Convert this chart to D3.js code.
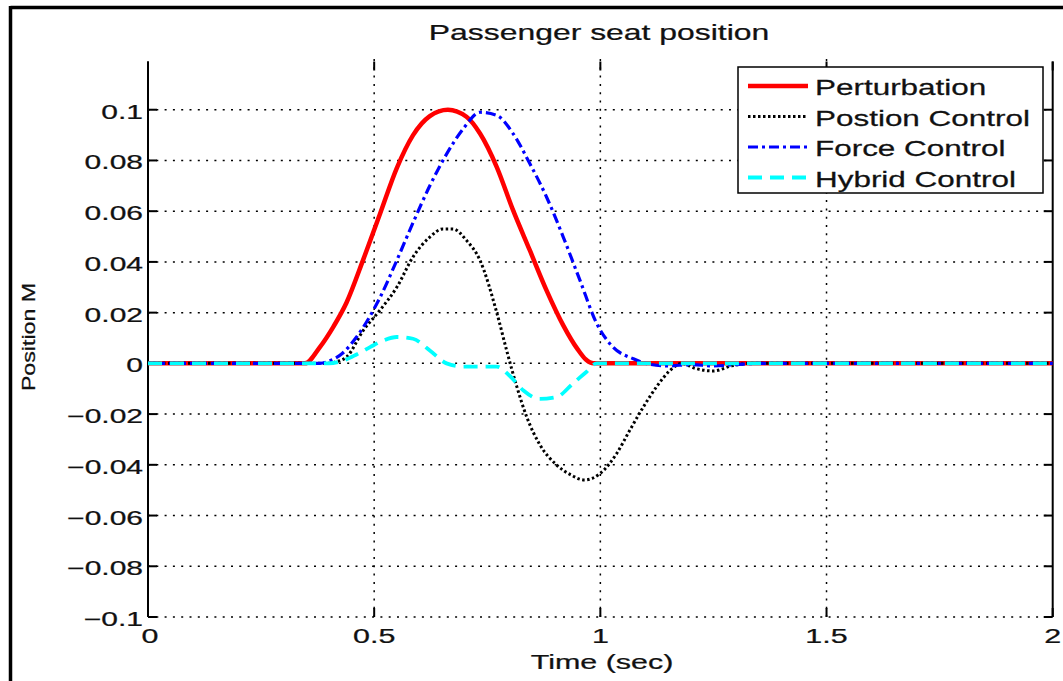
<!DOCTYPE html>
<html>
<head>
<meta charset="utf-8">
<script src="https://cdn.jsdelivr.net/npm/d3@7/dist/d3.min.js"></script>
<style>
  html, body { margin: 0; padding: 0; background: #fff; }
  svg { display: block; }
  text { font-family: "Liberation Sans", Arial, sans-serif; fill: #111; }
</style>
</head>
<body>
<svg id="chart" width="1063" height="681"></svg>
<script>
// ---------------- data ----------------
const chartTitle = "Passenger seat position";
const xLabel = "Time (sec)";
const yLabel = "Position M";
const xTicks = [0, 0.5, 1, 1.5, 2];
const xTickLabels = ["0", "0.5", "1", "1.5", "2"];
const yTicks = [-0.1, -0.08, -0.06, -0.04, -0.02, 0, 0.02, 0.04, 0.06, 0.08, 0.1];
const yTickLabels = ["\u22120.1", "\u22120.08", "\u22120.06", "\u22120.04", "\u22120.02", "0", "0.02", "0.04", "0.06", "0.08", "0.1"];
const seriesNames = ["Perturbation", "Postion Control", "Force Control", "Hybrid Control"];

const perturbTime  = [0, 0.347, 0.380, 0.410, 0.439, 0.476, 0.513, 0.550, 0.586, 0.623, 0.663, 0.704, 0.734, 0.771, 0.807, 0.844, 0.881, 0.918, 0.950, 0.968, 0.985, 2];
const perturbValue = [0, 0, 0.0064, 0.0145, 0.0240, 0.0410, 0.0590, 0.0770, 0.0900, 0.0975, 0.1000, 0.0972, 0.0906, 0.0774, 0.0604, 0.0446, 0.0288, 0.0150, 0.0055, 0.0015, 0, 0];

const positionTime  = [0, 0.40, 0.413, 0.439, 0.476, 0.513, 0.550, 0.586, 0.623, 0.652, 0.674, 0.704, 0.734, 0.771, 0.793, 0.815, 0.837, 0.866, 0.903, 0.935, 0.965, 0.999, 1.036, 1.065, 1.095, 1.124, 1.154, 1.18, 1.21, 1.25, 1.29, 1.33, 2];
const positionValue = [0, 0, 0.0005, 0.0025, 0.013, 0.021, 0.030, 0.042, 0.0498, 0.053, 0.053, 0.0485, 0.0406, 0.020, 0.005, -0.009, -0.021, -0.032, -0.040, -0.044, -0.046, -0.0435, -0.0356, -0.0264, -0.0172, -0.0093, -0.0028, 0, -0.002, -0.003, -0.001, 0, 0];

const forceTime  = [0, 0.38, 0.402, 0.430, 0.461, 0.513, 0.550, 0.586, 0.623, 0.660, 0.697, 0.734, 0.771, 0.807, 0.844, 0.881, 0.918, 0.955, 0.992, 1.028, 1.073, 1.10, 1.15, 1.20, 1.25, 1.30, 1.35, 2];
const forceValue = [0, 0, 0.001, 0.004, 0.0104, 0.026, 0.0406, 0.0555, 0.0700, 0.0825, 0.0925, 0.0990, 0.0978, 0.0906, 0.0788, 0.0656, 0.0498, 0.0327, 0.0157, 0.0064, 0.0018, 0.0, -0.001, -0.0005, -0.001, -0.0005, 0, 0];

const hybridTime  = [0, 0.40, 0.43, 0.461, 0.491, 0.520, 0.550, 0.586, 0.623, 0.660, 0.697, 0.771, 0.80, 0.83, 0.866, 0.903, 0.939, 0.969, 0.992, 2];
const hybridValue = [0, 0, 0.001, 0.0035, 0.0064, 0.0090, 0.0104, 0.0097, 0.0051, 0.0, -0.0013, -0.0013, -0.005, -0.0107, -0.014, -0.0133, -0.008, -0.0034, 0, 0];

// ---------------- layout / style ----------------
const svg = d3.select("#chart");
const W = 1063, H = 681;
const plotLeft = 148, plotRight = 1052.7, plotTop = 59, plotBottom = 617;

const x = d3.scaleLinear().domain([0, 2]).range([plotLeft, plotRight]);
const y = d3.scaleLinear().domain([-0.1, 0.12]).range([plotBottom, plotTop]);

const styles = [
  { color: "#ff0000", width: 4.5, dash: null },
  { color: "#000000", width: 3,   dash: "2.5,2.5" },
  { color: "#0000ff", width: 3.2, dash: "10,4,3,4" },
  { color: "#00ffff", width: 3.8, dash: "14,8" }
];

function stretchedText(parent, tx, ty, str, size, sx, anchor, rot) {
  const g = parent.append("g")
    .attr("transform", `translate(${tx},${ty})` + (rot ? ` rotate(${rot})` : "") + ` scale(${sx},1)`);
  g.append("text")
    .attr("x", 0).attr("y", 0)
    .attr("text-anchor", anchor)
    .style("font-size", size + "px")
    .style("stroke", "#111").style("stroke-width", 0.25)
    .text(str);
  return g;
}

// outer frame (top and left edges)
svg.append("line").attr("x1", 10.5).attr("x2", W).attr("y1", 7.5).attr("y2", 7.5)
  .attr("stroke", "#000").attr("stroke-width", 3.5);
svg.append("line").attr("x1", 10.5).attr("x2", 10.5).attr("y1", 6).attr("y2", H)
  .attr("stroke", "#000").attr("stroke-width", 3.5);

// grid
const grid = svg.append("g").attr("stroke", "#000").attr("stroke-width", 1.5)
  .attr("stroke-dasharray", "2,6.3").attr("fill", "none");
grid.selectAll("line.gy").data(yTicks).enter().append("line")
  .attr("x1", plotLeft).attr("x2", plotRight)
  .attr("y1", d => y(d)).attr("y2", d => y(d));
grid.selectAll("line.gx").data(xTicks.slice(1, -1)).enter().append("line")
  .attr("x1", d => x(d)).attr("x2", d => x(d))
  .attr("y1", plotTop).attr("y2", plotBottom);

// axes lines (left and right only)
const axes = svg.append("g").attr("stroke", "#000").attr("stroke-width", 2);
axes.append("line").attr("x1", plotLeft).attr("x2", plotLeft).attr("y1", plotTop + 2.5).attr("y2", plotBottom);
axes.append("line").attr("x1", plotRight).attr("x2", plotRight).attr("y1", plotTop + 2.5).attr("y2", plotBottom);
// ticks (inward)
const tl = 9;
axes.selectAll("line.tyl").data(yTicks).enter().append("line")
  .attr("x1", plotLeft).attr("x2", plotLeft + tl).attr("y1", d => y(d)).attr("y2", d => y(d));
axes.selectAll("line.tyr").data(yTicks).enter().append("line")
  .attr("x1", plotRight - tl).attr("x2", plotRight).attr("y1", d => y(d)).attr("y2", d => y(d));
axes.selectAll("line.txb").data(xTicks).enter().append("line")
  .attr("x1", d => x(d)).attr("x2", d => x(d)).attr("y1", plotBottom - tl).attr("y2", plotBottom);
axes.selectAll("line.txt").data(xTicks).enter().append("line")
  .attr("x1", d => x(d)).attr("x2", d => x(d)).attr("y1", plotTop + 2.5).attr("y2", plotTop + 2.5 + tl);

// tick labels
yTicks.forEach((v, i) => {
  stretchedText(svg, plotLeft - 5, y(v) + 9, yTickLabels[i], 20, 1.5, "end");
});
xTicks.forEach((v, i) => {
  stretchedText(svg, x(v) + (i === 0 ? 2 : 0), plotBottom + 26, xTickLabels[i], 21, 1.45, "middle");
});

// title and axis labels
stretchedText(svg, 599, 40, chartTitle, 22, 1.45, "middle");
stretchedText(svg, 602, 669, xLabel, 21, 1.45, "middle");
stretchedText(svg, 35, 337, yLabel, 19, 1.22, "middle", -90);

// series lines
const seriesData = [
  d3.zip(perturbTime, perturbValue),
  d3.zip(positionTime, positionValue),
  d3.zip(forceTime, forceValue),
  d3.zip(hybridTime, hybridValue)
];
const line = d3.line().x(d => x(d[0])).y(d => y(d[1])).curve(d3.curveMonotoneX);
svg.append("clipPath").attr("id", "plotclip").append("rect")
  .attr("x", plotLeft).attr("y", plotTop).attr("width", plotRight - plotLeft + 2).attr("height", plotBottom - plotTop);
const lines = svg.append("g").attr("clip-path", "url(#plotclip)");
seriesData.forEach((d, i) => {
  lines.append("path").datum(d)
    .attr("d", line)
    .attr("fill", "none")
    .attr("stroke", styles[i].color)
    .attr("stroke-width", styles[i].width)
    .attr("stroke-dasharray", styles[i].dash)
    .attr("stroke-linejoin", "round");
});

// legend
const lg = svg.append("g");
lg.append("rect").attr("x", 738).attr("y", 67).attr("width", 305).attr("height", 126)
  .attr("fill", "#fff").attr("stroke", "#000").attr("stroke-width", 1.5);
const rowBase = [95, 125.5, 156, 186.5];
seriesNames.forEach((name, i) => {
  const ly = rowBase[i] - 9;
  lg.append("line").attr("x1", 748).attr("x2", 808).attr("y1", ly).attr("y2", ly)
    .attr("stroke", styles[i].color).attr("stroke-width", styles[i].width)
    .attr("stroke-dasharray", styles[i].dash);
  stretchedText(lg, 815, rowBase[i], name, 22, 1.43, "start");
});
</script>
</body>
</html>
